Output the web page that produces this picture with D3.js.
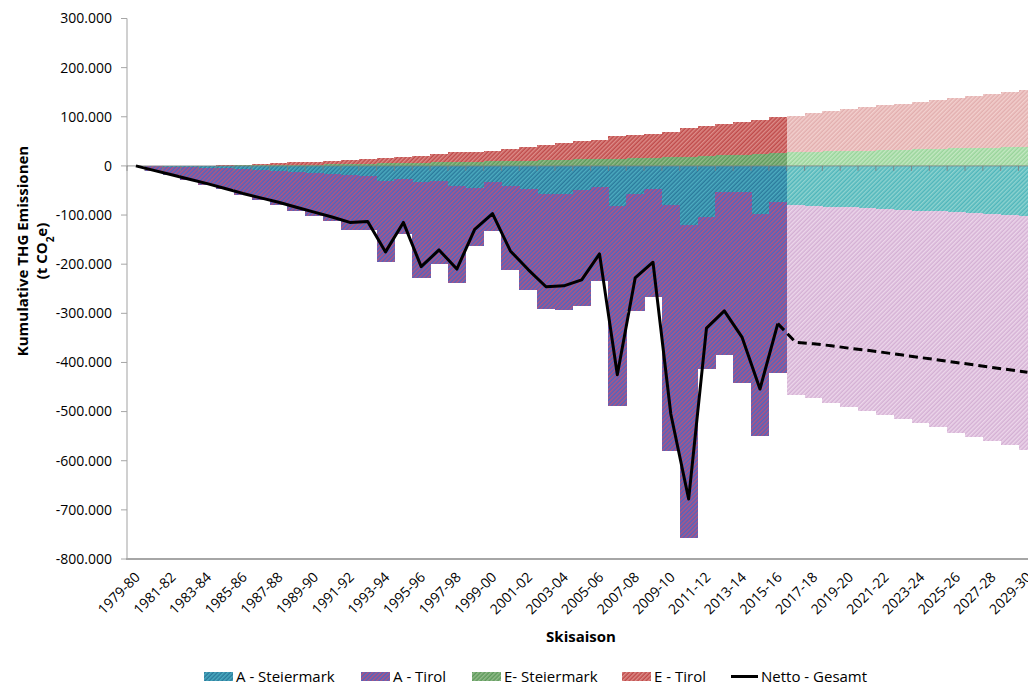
<!DOCTYPE html>
<html>
<head>
<meta charset="utf-8">
<script src="https://cdn.jsdelivr.net/npm/d3@7"></script>
<style>
  body { margin: 0; background: #fff; }
  text { font-family: "Open Sans", sans-serif; fill: #000; }
</style>
</head>
<body>
<svg id="chart" width="1028" height="684"></svg>
<script>
const seasons = [
  '1979-80','1980-81','1981-82','1982-83','1983-84','1984-85','1985-86','1986-87','1987-88','1988-89',
  '1989-90','1990-91','1991-92','1992-93','1993-94','1994-95','1995-96','1996-97','1997-98','1998-99',
  '1999-00','2000-01','2001-02','2002-03','2003-04','2004-05','2005-06','2006-07','2007-08','2008-09',
  '2009-10','2010-11','2011-12','2012-13','2013-14','2014-15','2015-16','2016-17','2017-18','2018-19',
  '2019-20','2020-21','2021-22','2022-23','2023-24','2024-25','2025-26','2026-27','2027-28','2028-29',
  '2029-30'
];

// first projected season (lighter fill, dashed line)
const projectionStart = 37;

const aSteiermark = [
  0, -1000, -2000, -3000, -4000, -5000, -7000, -8000, -10000, -12000,
  -14000, -16000, -18000, -20000, -31000, -27000, -33000, -31000, -40000, -45000,
  -33000, -40000, -47000, -57000, -57000, -50000, -42000, -81000, -58000, -47000,
  -79000, -120000, -103000, -54000, -54000, -98000, -73000, -80000, -81000, -83000,
  -84000, -86000, -87000, -89000, -91000, -92000, -94000, -96000, -97000, -99000,
  -101000
];
const aTirol = [
  -1000, -9000, -17000, -26000, -34000, -43000, -52000, -61000, -70000, -79000,
  -88000, -97000, -112000, -110000, -164000, -112000, -196000, -168000, -199000, -117000,
  -99000, -172000, -206000, -234000, -236000, -235000, -193000, -407000, -238000, -219000,
  -501000, -637000, -311000, -330000, -388000, -451000, -349000, -386000, -392000, -400000,
  -406000, -412000, -420000, -426000, -433000, -440000, -449000, -455000, -463000, -469000,
  -477000
];
const eSteiermark = [
  0, 0, 0, 100, 300, 500, 1000, 1300, 1800, 2300,
  2800, 3300, 3800, 4500, 5000, 5500, 6000, 7000, 8000, 8500,
  9000, 10000, 11000, 12000, 13000, 13500, 14000, 15000, 16000, 17000,
  18000, 19000, 20500, 22000, 23000, 24500, 26000, 28000, 29000, 30000,
  30500, 31000, 32000, 33000, 34000, 34500, 35500, 36500, 37000, 38000,
  39000
];
const eTirol = [
  0, 0, 0, 200, 500, 1000, 1500, 2200, 3200, 4700,
  5700, 6700, 8200, 9500, 11000, 12500, 15000, 17000, 20000, 20500,
  22000, 25000, 27000, 31000, 33000, 36500, 39000, 45000, 46000, 48000,
  50000, 58000, 60500, 64000, 66000, 69500, 73000, 74000, 78000, 81000,
  84500, 88000, 91000, 94000, 97000, 100500, 102500, 106500, 110000, 113000,
  116000
];
const netto = [
  0, -9000, -18000, -27000, -36000, -46000, -56000, -65000, -74000, -84000,
  -94000, -104000, -115000, -113000, -175000, -115000, -205000, -171000, -210000, -129000,
  -97000, -173000, -211000, -246000, -244000, -232000, -179000, -425000, -228000, -196000,
  -505000, -678000, -330000, -295000, -349000, -454000, -321000, -359000, -362000, -366000,
  -371000, -375000, -380000, -385000, -390000, -395000, -400000, -405000, -410000, -415000,
  -420000
];

const yTicks = [300000, 200000, 100000, 0, -100000, -200000, -300000, -400000, -500000, -600000, -700000, -800000];

const seriesNames = ['A - Steiermark', 'A - Tirol', 'E- Steiermark', 'E - Tirol'];
const seriesValues = [aSteiermark, aTirol, eSteiermark, eTirol];
const histColors = [['#2b7a9c', '#4cacc0'], ['#4a66c4', '#b5537f'], ['#5d9a5b', '#93bb8b'], ['#bf4a4a', '#dc8c88']];
const projColors = [['#4fb6bb', '#8fd3d0'], ['#d4b0d4', '#ecd6ea'], ['#98d49a', '#c4e8c2'], ['#e2aeae', '#f2d0ce']];

const svg = d3.select('#chart');
const left = 127;
const band = 17.83;

const x = d3.scaleBand()
  .domain(seasons)
  .range([left, left + band * seasons.length])
  .padding(0);

const y = d3.scaleLinear()
  .domain([-800000, 300000])
  .range([559, 18.5]);

const fmt = d3.formatLocale({ decimal: ',', thousands: '.', grouping: [3], currency: ['', ' €'], minus: '-' }).format(',.0f');

// hatch patterns
const defs = svg.append('defs');
function hatch(id, c) {
  const p = defs.append('pattern')
    .attr('id', id)
    .attr('patternUnits', 'userSpaceOnUse')
    .attr('width', 3)
    .attr('height', 3)
    .attr('patternTransform', 'rotate(45)');
  p.append('rect').attr('width', 3).attr('height', 3).attr('fill', c[0]);
  p.append('rect').attr('width', 1.5).attr('height', 3).attr('fill', c[1]);
}
seriesNames.forEach((n, k) => {
  hatch('h' + k, histColors[k]);
  hatch('p' + k, projColors[k]);
});

const table = seasons.map((s, i) => {
  const row = { season: s, i: i };
  seriesNames.forEach((n, k) => { row[n] = seriesValues[k][i]; });
  return row;
});

const stacked = d3.stack()
  .keys(seriesNames)
  .offset(d3.stackOffsetDiverging)(table);

stacked.forEach((layer, k) => {
  svg.append('g')
    .selectAll('rect')
    .data(layer)
    .enter()
    .append('rect')
    .attr('shape-rendering', 'crispEdges')
    .attr('x', d => x(d.data.season))
    .attr('width', x.bandwidth() + 0.5)
    .attr('y', d => y(Math.max(d[0], d[1])))
    .attr('height', d => Math.abs(y(d[0]) - y(d[1])))
    .attr('fill', d => d.data.i >= projectionStart ? `url(#p${k})` : `url(#h${k})`);
});

// y axis
svg.append('line')
  .attr('x1', left).attr('x2', left)
  .attr('y1', y(300000)).attr('y2', y(-800000))
  .attr('stroke', '#d0d0d0').attr('stroke-width', 2);

const yAxis = svg.append('g');
yAxis.selectAll('line')
  .data(yTicks)
  .enter()
  .append('line')
  .attr('x1', left - 6).attr('x2', left)
  .attr('y1', d => y(d)).attr('y2', d => y(d))
  .attr('stroke', '#a6a6a6').attr('stroke-width', 1);
yAxis.selectAll('text')
  .data(yTicks)
  .enter()
  .append('text')
  .attr('x', 112)
  .attr('y', d => y(d))
  .attr('dy', '0.35em')
  .attr('text-anchor', 'end')
  .style('font-size', '14px')
  .text(d => fmt(d));

// zero line with category ticks
svg.append('line')
  .attr('x1', left).attr('x2', 1028)
  .attr('y1', y(0)).attr('y2', y(0))
  .attr('stroke', '#7f7f7f').attr('stroke-width', 1).attr('opacity', 0.8);
svg.append('g')
  .selectAll('line')
  .data(seasons)
  .enter()
  .append('line')
  .attr('x1', d => x(d)).attr('x2', d => x(d))
  .attr('y1', y(0)).attr('y2', y(0) + 5)
  .attr('stroke', '#7f7f7f').attr('opacity', 0.8);

// bottom axis line
svg.append('line')
  .attr('x1', left - 1).attr('x2', 1028)
  .attr('y1', 559).attr('y2', 559)
  .attr('stroke', '#a6a6a6').attr('stroke-width', 2);

// x labels
svg.append('g')
  .selectAll('text')
  .data(seasons.filter((s, i) => i % 2 === 0))
  .enter()
  .append('text')
  .attr('transform', d => `translate(${x(d) + x.bandwidth() / 2 + 5},${578}) rotate(-45)`)
  .attr('text-anchor', 'end')
  .style('font-size', '14px')
  .text(d => d);

// netto line
const line = d3.line()
  .x(d => x(d.season) + x.bandwidth() / 2)
  .y(d => y(d.v));
const pts = seasons.map((s, i) => ({ season: s, v: netto[i], i: i }));
svg.append('path')
  .datum(pts.filter(d => d.i < projectionStart))
  .attr('d', line)
  .attr('fill', 'none')
  .attr('stroke', '#000')
  .attr('stroke-width', 3)
  .attr('stroke-linejoin', 'round');
svg.append('path')
  .datum(pts.filter(d => d.i >= projectionStart - 1))
  .attr('d', line)
  .attr('fill', 'none')
  .attr('stroke', '#000')
  .attr('stroke-width', 3)
  .attr('stroke-dasharray', '9,5');

// titles
const yTitle = svg.append('text')
  .attr('transform', 'translate(0,251) rotate(-90)')
  .attr('text-anchor', 'middle')
  .style('font-size', '15px')
  .style('font-weight', 'bold');
yTitle.append('tspan').attr('x', 0).attr('y', 28).text('Kumulative THG Emissionen');
const t2 = yTitle.append('tspan').attr('x', 0).attr('y', 47);
t2.append('tspan').text('(t CO');
t2.append('tspan').attr('baseline-shift', 'sub').style('font-size', '10px').text('2');
t2.append('tspan').text('e)');

svg.append('text')
  .attr('x', 581)
  .attr('y', 642)
  .attr('text-anchor', 'middle')
  .style('font-size', '15px')
  .style('font-weight', 'bold')
  .text('Skisaison');

// legend
const legendX = [204, 361, 472, 622];
const legend = svg.append('g');
seriesNames.forEach((n, k) => {
  legend.append('rect')
    .attr('x', legendX[k]).attr('y', 672)
    .attr('width', 29).attr('height', 9)
    .attr('fill', `url(#h${k})`);
  legend.append('text')
    .attr('x', legendX[k] + 32).attr('y', 681.5)
    .style('font-size', '15px')
    .text(n);
});
legend.append('line')
  .attr('x1', 731).attr('x2', 758)
  .attr('y1', 676.5).attr('y2', 676.5)
  .attr('stroke', '#000').attr('stroke-width', 3);
legend.append('text')
  .attr('x', 761).attr('y', 681.5)
  .style('font-size', '15px')
  .text('Netto - Gesamt');
</script>
</body>
</html>
